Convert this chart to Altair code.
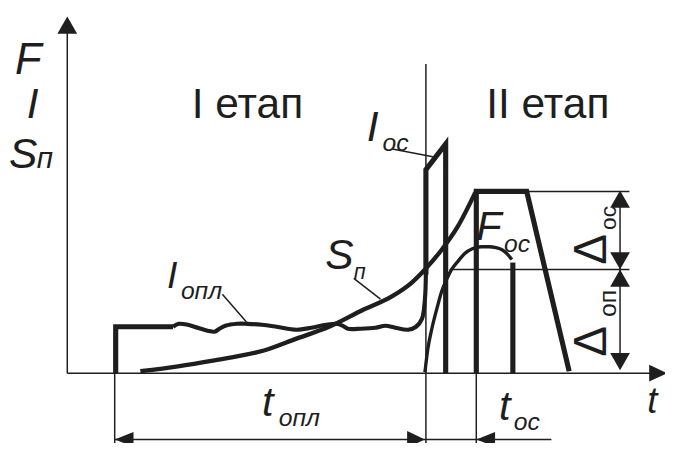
import altair as alt
import pandas as pd

INK = "#1e1e1e"
FONT = "Liberation Sans"

# ---------------- diagram data (pixel-space coordinates) ----------------
# I_opl : step start then wavy plateau rising into the I_oc pulse
i_step_x = [117, 117, 175]
i_step_y = [375, 328, 328]
i_wave_x = [175, 181, 190, 200, 210, 217, 222, 228, 240, 250, 265, 280, 300, 315, 330, 340, 347, 352, 365, 380, 390, 400, 413, 421, 427, 430, 431]
i_wave_y = [328, 325, 326, 329, 332, 333, 330, 327, 325, 325, 326, 328, 331, 329, 326, 325, 327, 330, 330, 329, 327, 329, 331, 328, 320, 300, 272]
# I_oc pulse
ioc_x = [431, 431, 451, 451]
ioc_y = [275, 169, 143, 375]
# S_p curve
sp_x = [142, 180, 217, 245, 267, 300, 333, 367, 397, 417, 430, 447, 463, 481]
sp_y = [373, 368, 362, 357, 352, 340, 328, 311, 297, 283, 270, 250, 227, 192]
# trapezoid (welding force plateau)
trap_x = [482, 482, 533, 576]
trap_y = [375, 191, 191, 373]
# F_oc curve and its drop
foc_x = [430, 433, 437, 442, 447, 452, 457, 464, 470, 478, 487, 495, 502, 508, 513, 518]
foc_y = [374, 350, 330, 310, 292, 280, 270, 261, 254, 249, 247, 247, 248, 250, 254, 260]
foc_drop_x = [519, 519]
foc_drop_y = [263, 375]

# thin construction lines: (x1, y1, x2, y2)
thin_x1 = [68, 68, 431, 116, 482, 116, 533, 455, 627.5, 397, 225, 358]
thin_y1 = [375, 375, 62, 375, 375, 442, 191, 270, 195, 148, 295, 279]
thin_x2 = [68, 668, 431, 116, 482, 558, 637, 637, 627.5, 438, 250, 385]
thin_y2 = [30, 375, 451, 451, 451, 442, 191, 270, 368, 156, 324, 300]

# arrow heads (tip positions)
up_x = [68, 627.5, 627.5]
up_y = [14, 190, 270]
down_x = [627.5, 627.5]
down_y = [270, 372]
left_x = [116, 482]
left_y = [442, 442]
right_x = [430, 675]
right_y = [442, 375]

# labels
lab_F, lab_I, lab_S, lab_p = "F", "I", "S", "п"
stage1, stage2 = "I етап", "II етап"
sub_oc, sub_opl, sub_op = "ос", "опл", "оп"
lab_t, lab_delta = "t", "Δ"

# ---------------- scales ----------------
W, H = 665, 435
XS = alt.Scale(domain=[8, 8 + W], range=[0, W], nice=False, zero=False)
YS = alt.Scale(domain=[8, 8 + H], range=[0, H], nice=False, zero=False)


def path_df(name, xs, ys):
    return pd.DataFrame({"p": name, "i": range(len(xs)), "x": xs, "y": ys})


def lines(df, width, interp="linear"):
    return alt.Chart(df).mark_line(
        color=INK, strokeWidth=width, interpolate=interp, strokeJoin="miter", strokeCap="butt"
    ).encode(
        x=alt.X("x:Q", scale=XS, axis=None),
        y=alt.Y("y:Q", scale=YS, axis=None),
        detail="p:N",
        order="i:Q",
    )


layers = []
layers.append(lines(pd.concat([path_df("step", i_step_x, i_step_y),
                               path_df("ioc", ioc_x, ioc_y),
                               path_df("trap", trap_x, trap_y),
                               path_df("drop", foc_drop_x, foc_drop_y)]), 5.2))
layers.append(lines(path_df("wave", i_wave_x, i_wave_y), 4.2, "catmull-rom"))
layers.append(lines(path_df("sp", sp_x, sp_y), 4.4, "monotone"))
layers.append(lines(path_df("foc", foc_x, foc_y), 3.4, "monotone"))

thin = pd.DataFrame({"x": thin_x1, "y": thin_y1, "x2": thin_x2, "y2": thin_y2})
layers.append(alt.Chart(thin).mark_rule(color=INK, strokeWidth=1.5).encode(
    x=alt.X("x:Q", scale=XS, axis=None), y=alt.Y("y:Q", scale=YS, axis=None), x2="x2:Q", y2="y2:Q"))


def heads(xs, ys, shape):
    return alt.Chart(pd.DataFrame({"x": xs, "y": ys})).mark_point(
        shape=shape, filled=True, size=100, color=INK, opacity=1, strokeWidth=0
    ).encode(x=alt.X("x:Q", scale=XS, axis=None), y=alt.Y("y:Q", scale=YS, axis=None))


layers.append(heads(up_x, up_y, "M0,0L-2,3.5L2,3.5Z"))
layers.append(heads(down_x, down_y, "M0,0L-2,-3.5L2,-3.5Z"))
layers.append(heads(left_x, left_y, "M0,0L3.8,-1.5L3.8,1.5Z"))
layers.append(heads(right_x, right_y, "M0,0L-3.6,-1.7L-3.6,1.7Z"))


def label(txt, x, y, size, italic=True, angle=0):
    return alt.Chart(pd.DataFrame({"t": [txt], "x": [x], "y": [y]})).mark_text(
        align="left", baseline="alphabetic", font=FONT, fontSize=size,
        fontStyle="italic" if italic else "normal", color=INK, angle=angle
    ).encode(x=alt.X("x:Q", scale=XS, axis=None), y=alt.Y("y:Q", scale=YS, axis=None), text="t:N")


layers += [
    label(lab_F, 15, 72, 44),
    label(lab_I, 27, 117, 43),
    label(lab_S, 9, 167, 43),
    label(lab_p, 37, 167, 30),
    label(stage1, 194, 117, 43, italic=False),
    label(stage2, 492, 117, 43, italic=False),
    label(lab_I, 371, 140, 43),
    label(sub_oc, 387, 150, 25),
    label(lab_I, 169, 289, 38),
    label(sub_opl, 183, 300, 25),
    label(lab_S, 329, 270, 43),
    label(lab_p, 358, 280, 22),
    label(lab_F, 482, 240, 42),
    label(sub_oc, 510, 252, 25),
    label(lab_t, 265, 418, 42),
    label(sub_opl, 282, 428, 25),
    label(lab_t, 505, 422, 42),
    label(sub_oc, 520, 432, 25),
    label(lab_t, 655, 415, 37),
    label(lab_delta, 613, 265, 46, italic=False, angle=270),
    label(sub_oc, 623, 230, 23, italic=False, angle=270),
    label(lab_delta, 613, 358, 46, italic=False, angle=270),
    label(sub_op, 623, 318, 25, italic=False, angle=270),
]

chart = alt.layer(*layers).properties(
    width=W, height=H, padding=0, autosize=alt.AutoSizeParams(type="none")
).configure_view(stroke=None)

chart.save("out.html", embed_options={"renderer": "svg", "actions": False})
